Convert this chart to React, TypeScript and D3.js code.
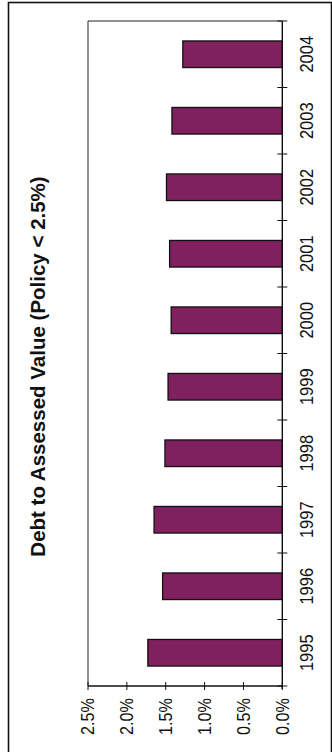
import React from "react";
import * as d3 from "d3";

const years = ["1995", "1996", "1997", "1998", "1999", "2000", "2001", "2002", "2003", "2004"];
const ratios = [1.73, 1.54, 1.65, 1.51, 1.47, 1.43, 1.45, 1.49, 1.42, 1.28];
const valueTicks = [0, 0.5, 1.0, 1.5, 2.0, 2.5];
const titleText = "Debt to Assessed Value (Policy < 2.5%)";

const W = 332;
const H = 752;
const FONT = "'Liberation Sans', Arial, sans-serif";

export default function App() {
  const plotLeft = 88;
  const plotRight = 282.3;
  const plotTop = 21;
  const plotBottom = 686;

  const y = d3
    .scaleBand<string>()
    .domain([...years].reverse())
    .range([plotTop, plotBottom])
    .paddingInner(0.6)
    .paddingOuter(0.3);

  const x = d3.scaleLinear().domain([0, 2.5]).range([plotRight, plotLeft]);

  const step = y.step();
  const boundaries = d3.range(years.length + 1).map((i) => plotTop + i * step);
  const fmt = d3.format(".1f");

  return (
    <svg
      width={W}
      height={H}
      style={{ position: "absolute", left: 0, top: 0, background: "#fff" }}
      fontFamily={FONT}
    >
      {/* outer frame */}
      <rect x={8.5} y={2.5} width={323} height={760} fill="none" stroke="#111" strokeWidth={1.6} />

      {/* plot border (left and top) */}
      <line x1={plotLeft} x2={plotLeft} y1={plotTop} y2={plotBottom} stroke="#222" strokeWidth={1} />
      <line x1={plotLeft} x2={plotRight} y1={plotTop} y2={plotTop} stroke="#222" strokeWidth={1} />

      {/* bars */}
      {years.map((yr, i) => (
        <rect
          key={yr}
          x={x(ratios[i])}
          y={y(yr)!}
          width={x(0) - x(ratios[i])}
          height={y.bandwidth()}
          fill="#80205f"
          stroke="#111"
          strokeWidth={1.3}
        />
      ))}

      {/* category axis (right, at zero) */}
      <line x1={plotRight} x2={plotRight} y1={plotTop} y2={plotBottom + 3} stroke="#111" strokeWidth={1.4} />
      {boundaries.map((b, i) => (
        <line key={i} x1={plotRight - 5} x2={plotRight + 5} y1={b} y2={b} stroke="#111" strokeWidth={1} />
      ))}
      {years.map((yr) => {
        const cy = y(yr)! + y.bandwidth() / 2;
        const bx = 312.5;
        return (
          <text
            key={yr}
            transform={`translate(${bx},${cy}) rotate(-90) scale(1,1.1)`}
            textAnchor="middle"
            fontSize={16.5}
            fill="#111"
          >
            {yr}
          </text>
        );
      })}

      {/* value axis (bottom) */}
      <line x1={plotLeft} x2={plotRight} y1={plotBottom} y2={plotBottom} stroke="#111" strokeWidth={1.4} />
      {valueTicks.map((v) => (
        <line key={v} x1={x(v)} x2={x(v)} y1={plotBottom - 4} y2={plotBottom + 4} stroke="#111" strokeWidth={1} />
      ))}
      {valueTicks.map((v) => (
        <text
          key={"l" + v}
          transform={`translate(${x(v) + 6.3},${698}) rotate(-90) scale(1,1.08)`}
          textAnchor="end"
          fontSize={16.2}
          fill="#111"
        >
          {fmt(v) + "%"}
        </text>
      ))}

      {/* title */}
      <text
        transform={`translate(45,366.5) rotate(-90)`}
        textAnchor="middle"
        fontSize={20.5}
        fontWeight="bold"
        fill="#111"
      >
        {titleText}
      </text>
    </svg>
  );
}
